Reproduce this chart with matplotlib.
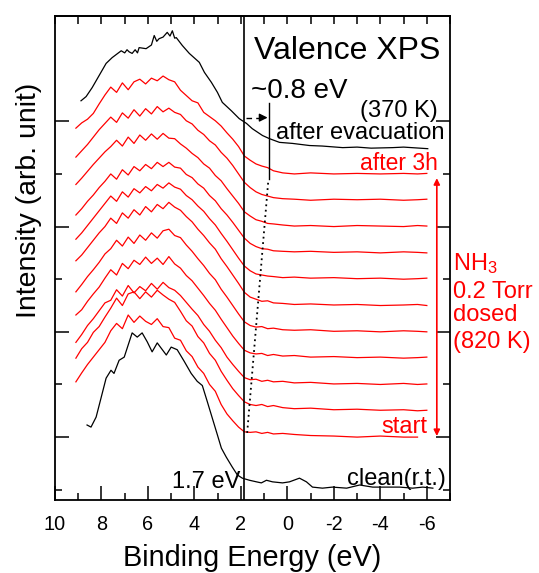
import matplotlib
matplotlib.use("Agg")
import matplotlib.pyplot as plt
import numpy as np

plt.rcParams['font.family'] = ['Liberation Sans', 'DejaVu Sans']
plt.rcParams['axes.unicode_minus'] = False
plt.rcParams['mathtext.default'] = 'regular'

# binding energy grid shared by the red (NH3 dosed) spectra
X_RED = [9.1, 8.85, 8.6, 8.35, 8.1, 7.85, 7.6, 7.35, 7.1, 6.85, 6.6, 6.35, 6.1,
         5.85, 5.6, 5.35, 5.1, 4.85, 4.6, 4.35, 4.1, 3.85, 3.6, 3.35, 3.1, 2.85,
         2.6, 2.35, 2.1, 1.85, 1.6, 1.35, 1.1, 0.85, 0.6, 0.2, -0.3, -1.0, -2.0,
         -3.0, -4.0, -5.0, -5.6, -6.0]

# red spectra, bottom ("start") to top ("after 3h"), intensity above own baseline
RED_INT = [
    [1.05, 1.22, 1.38, 1.52, 1.66, 1.80, 2.02, 2.16, 2.06, 2.32, 2.18, 2.30, 2.20,
     2.14, 2.25, 2.10, 2.08, 1.88, 1.84, 1.64, 1.53, 1.33, 1.21, 1.00, 0.87, 0.62,
     0.44, 0.31, 0.19, 0.10, 0.09, 0.10, 0.07, 0.09, 0.06, 0.07, 0.05, 0.03, 0.02,
     0.00, 0.02, 0.00, 0.00, np.nan],
    [1.00, 1.18, 1.30, 1.49, 1.60, 1.78, 1.95, 2.14, 2.00, 2.22, 2.26, 2.13, 2.26,
     2.16, 2.29, 2.20, 2.12, 2.06, 1.89, 1.71, 1.61, 1.41, 1.29, 1.09, 0.96, 0.75,
     0.58, 0.42, 0.29, 0.17, 0.12, 0.10, 0.12, 0.08, 0.10, 0.06, 0.04, 0.05, 0.02,
     0.03, 0.01, 0.02, 0.00, 0.01],
    [0.80, 0.95, 1.12, 1.25, 1.40, 1.55, 1.60, 1.80, 1.68, 1.88, 1.74, 1.86, 1.78,
     1.92, 1.81, 1.94, 1.84, 1.79, 1.69, 1.56, 1.43, 1.31, 1.14, 1.01, 0.84, 0.70,
     0.52, 0.38, 0.25, 0.13, 0.09, 0.10, 0.06, 0.08, 0.05, 0.06, 0.03, 0.04, 0.01,
     0.02, 0.00, 0.02, 0.00, 0.01],
    [0.82, 0.92, 1.08, 1.22, 1.35, 1.52, 1.68, 1.58, 1.80, 1.70, 1.86, 1.78, 1.92,
     1.80, 1.90, 1.78, 1.93, 1.79, 1.71, 1.57, 1.47, 1.33, 1.19, 1.04, 0.91, 0.74,
     0.58, 0.42, 0.28, 0.15, 0.10, 0.08, 0.09, 0.05, 0.07, 0.04, 0.05, 0.02, 0.03,
     0.01, 0.02, 0.00, 0.01, 0.02],
    [0.76, 0.90, 1.05, 1.18, 1.32, 1.48, 1.58, 1.74, 1.63, 1.80, 1.68, 1.84, 1.74,
     1.88, 1.78, 1.92, 1.95, 1.83, 1.79, 1.65, 1.53, 1.39, 1.26, 1.11, 0.99, 0.81,
     0.66, 0.50, 0.34, 0.19, 0.12, 0.09, 0.10, 0.06, 0.07, 0.04, 0.03, 0.04, 0.01,
     0.02, 0.00, 0.02, 0.01, 0.00],
    [0.85, 0.96, 1.10, 1.24, 1.38, 1.50, 1.66, 1.56, 1.76, 1.66, 1.82, 1.72, 1.88,
     1.78, 1.92, 1.84, 1.96, 1.87, 1.81, 1.69, 1.59, 1.45, 1.33, 1.19, 1.07, 0.89,
     0.74, 0.58, 0.42, 0.25, 0.16, 0.12, 0.08, 0.09, 0.05, 0.04, 0.02, 0.03, 0.01,
     0.02, 0.00, 0.01, 0.02, 0.00],
    [0.76, 0.88, 1.02, 1.16, 1.30, 1.44, 1.58, 1.48, 1.66, 1.56, 1.72, 1.64, 1.76,
     1.68, 1.80, 1.73, 1.83, 1.75, 1.71, 1.59, 1.51, 1.39, 1.29, 1.15, 1.03, 0.87,
     0.72, 0.56, 0.40, 0.25, 0.16, 0.10, 0.08, 0.06, 0.05, 0.03, 0.04, 0.02, 0.03,
     0.01, 0.02, 0.00, 0.01, 0.02],
    [0.72, 0.84, 0.98, 1.10, 1.24, 1.36, 1.50, 1.40, 1.58, 1.48, 1.64, 1.56, 1.68,
     1.60, 1.72, 1.64, 1.72, 1.63, 1.61, 1.49, 1.43, 1.31, 1.23, 1.09, 0.99, 0.84,
     0.72, 0.58, 0.43, 0.28, 0.18, 0.12, 0.08, 0.07, 0.04, 0.03, 0.02, 0.03, 0.01,
     0.02, 0.00, 0.02, 0.01, 0.00],
    [0.80, 0.92, 1.05, 1.18, 1.30, 1.42, 1.52, 1.64, 1.53, 1.70, 1.58, 1.74, 1.64,
     1.76, 1.66, 1.77, 1.68, 1.67, 1.57, 1.49, 1.39, 1.31, 1.19, 1.11, 0.97, 0.87,
     0.72, 0.58, 0.44, 0.28, 0.20, 0.13, 0.10, 0.06, 0.05, 0.03, 0.01, 0.02, 0.00,
     0.02, 0.01, 0.00, 0.02, 0.01],
    [0.82, 0.94, 1.06, 1.20, 1.34, 1.46, 1.58, 1.48, 1.66, 1.56, 1.72, 1.60, 1.74,
     1.64, 1.78, 1.68, 1.75, 1.67, 1.63, 1.51, 1.45, 1.33, 1.25, 1.13, 1.05, 0.91,
     0.80, 0.66, 0.50, 0.34, 0.24, 0.16, 0.11, 0.08, 0.05, 0.03, 0.02, 0.00, 0.02,
     0.01, 0.02, 0.00, 0.01, 0.02],
    [0.87, 0.97, 1.04, 1.15, 1.33, 1.50, 1.65, 1.55, 1.73, 1.60, 1.75, 1.80, 1.71,
     1.82, 1.77, 1.86, 1.79, 1.75, 1.59, 1.49, 1.39, 1.35, 1.17, 1.09, 1.01, 0.91,
     0.78, 0.66, 0.52, 0.34, 0.26, 0.19, 0.15, 0.12, 0.06, 0.02, 0.00, 0.02, 0.00,
     0.01, 0.00, 0.01, 0.00, 0.01],
]
RED_OFFSETS = [0.0, 0.5, 1.0, 1.5, 2.0, 2.5, 3.0, 3.5, 4.0, 4.5, 5.0]

# black spectrum on top: after evacuation (370 K)
X_EVAC = [8.88, 8.66, 8.40, 8.10, 7.80, 7.54, 7.15, 7.0, 6.9, 6.81, 6.68, 6.55,
          6.45, 6.38, 6.08, 5.85, 5.73, 5.62, 5.52, 5.35, 5.17, 5.05, 4.95, 4.85,
          4.78, 4.52, 4.22, 3.79, 3.57, 3.27, 3.01, 2.80, 2.41, 2.07, 1.76, 1.51,
          1.07, 0.77, 0.34, -0.22, -0.95, -1.5, -2.38, -3.0, -3.6, -4.53, -5.0, -6.04]
Y_EVAC = [0.89, 0.97, 1.14, 1.37, 1.60, 1.71, 1.84, 1.80, 1.86, 1.82, 1.79, 1.86,
          1.80, 1.90, 1.88, 1.95, 2.13, 2.02, 2.07, 2.10, 2.19, 2.12, 2.22, 2.08,
          2.09, 1.94, 1.79, 1.62, 1.43, 1.24, 1.05, 0.86, 0.70, 0.55, 0.46, 0.36,
          0.23, 0.17, 0.10, 0.08, 0.04, 0.03, 0.00, 0.01, -0.01, 0.00, 0.01, -0.02]
EVAC_OFFSET = 5.5

# black spectrum at the bottom: clean surface (r.t.)
X_CLEAN = [8.62, 8.45, 8.23, 8.02, 7.80, 7.59, 7.46, 7.24, 7.02, 6.68, 6.46, 6.25,
           6.03, 5.82, 5.60, 5.21, 5.00, 4.74, 4.44, 4.14, 3.88, 3.66, 3.45, 3.23,
           3.01, 2.84, 2.63, 2.37, 2.15, 1.94, 1.63, 1.33, 1.12, 0.90, 0.64, 0.21,
           -0.09, -0.52, -0.82, -1.08, -1.51, -1.94, -2.55, -3.11, -3.67, -4.27,
           -4.83, -5.39, -5.83, -6.26]
Y_CLEAN = [1.23, 1.19, 1.38, 1.74, 2.12, 2.27, 2.21, 2.46, 2.52, 2.98, 2.90, 2.98,
           2.81, 2.62, 2.79, 2.56, 2.71, 2.66, 2.44, 2.21, 2.06, 1.98, 1.68, 1.36,
           1.04, 0.79, 0.62, 0.43, 0.28, 0.22, 0.18, 0.15, 0.13, 0.18, 0.15, 0.13,
           0.15, 0.22, 0.15, 0.05, 0.03, 0.05, 0.03, 0.09, 0.05, 0.05, 0.05, 0.03,
           0.05, 0.03]
CLEAN_OFFSET = -1.0

X_TICKS = [10, 8, 6, 4, 2, 0, -2, -4, -6]

fig = plt.figure(figsize=(5.39, 5.73), dpi=100)
ax = fig.add_axes([0.102, 0.1274, 0.733, 0.8446])

for vals, off in zip(RED_INT, RED_OFFSETS):
    ax.plot(X_RED, np.array(vals) + off, color='#ff0000', lw=0.9)
ax.plot(X_EVAC, np.array(Y_EVAC) + EVAC_OFFSET, color='k', lw=0.9)
ax.plot(X_CLEAN, np.array(Y_CLEAN) + CLEAN_OFFSET, color='k', lw=0.9)

# onset markers
ax.axvline(1.85, color='k', lw=1.2)
ax.plot([1.73, 0.82], [0.08, 4.88], color='k', lw=1.3, ls=(0, (1, 2)))
ax.plot([0.77, 0.77], [4.91, 6.34], color='k', lw=1.0)
ax.plot([1.76, 1.1], [6.07, 6.07], color='k', lw=1.0, ls=(0, (4, 3)))
ax.annotate('', xy=(0.85, 6.07), xytext=(1.15, 6.07),
            arrowprops=dict(arrowstyle='-|>', color='k', lw=1.0,
                            mutation_scale=12, shrinkA=0, shrinkB=0))
ax.annotate('', xy=(-6.43, 4.92), xytext=(-6.43, 0.02),
            arrowprops=dict(arrowstyle='<|-|>', color='#ff0000', lw=1.2,
                            mutation_scale=9, shrinkA=0, shrinkB=0))

ax.text(1.42, 7.34, 'Valence XPS', fontsize=23, va='center')
ax.text(1.55, 6.58, '~0.8 eV', fontsize=20, va='center')
ax.text(-3.11, 6.20, '(370 K)', fontsize=17, va='center')
ax.text(0.47, 5.77, 'after evacuation', fontsize=17, va='center')
ax.text(-3.11, 5.20, 'after 3h', fontsize=16.5, va='center', color='#ff0000')
ax.text(-4.06, 0.19, 'start', fontsize=17, va='center', color='#ff0000')
ax.text(-2.55, -0.80, 'clean(r.t.)', fontsize=17, va='center')
ax.text(4.95, -0.85, '1.7 eV', fontsize=17, va='center')
for txt, yy in [('NH$_3$', 3.30), ('0.2 Torr', 2.75), ('dosed', 2.32), ('(820 K)', 1.80)]:
    ax.text(-7.12, yy, txt, fontsize=17, va='center', color='#ff0000', clip_on=False)

ax.set_xlim(10, -7)
ax.set_ylim(-1.195, 8.0)
ax.set_xticks(X_TICKS)
ax.set_xticks(range(-7, 11), minor=True)
ax.set_yticks([0, 2, 4, 6])
ax.set_yticks([-1, 1, 3, 5], minor=True)
ax.set_yticklabels([])
ax.tick_params(which='both', direction='in', left=True, right=True, bottom=True, top=False,
               labelsize=14.3, pad=11, width=1.1)
ax.tick_params(which='major', length=10)
ax.tick_params(which='minor', length=5)
sec = ax.secondary_xaxis('top')
sec.set_xticks(range(-7, 11))
sec.tick_params(direction='in', length=6, labeltop=False, width=1.1)
for s in ax.spines.values():
    s.set_linewidth(1.3)
sec.spines['top'].set_linewidth(1.3)

ax.set_xlabel('Binding Energy (eV)', fontsize=20.8, labelpad=7)
ax.set_ylabel('Intensity (arb. unit)', fontsize=20.4)
ax.yaxis.set_label_coords(-0.033, 0.62)

fig.savefig('out.png', dpi=100)
